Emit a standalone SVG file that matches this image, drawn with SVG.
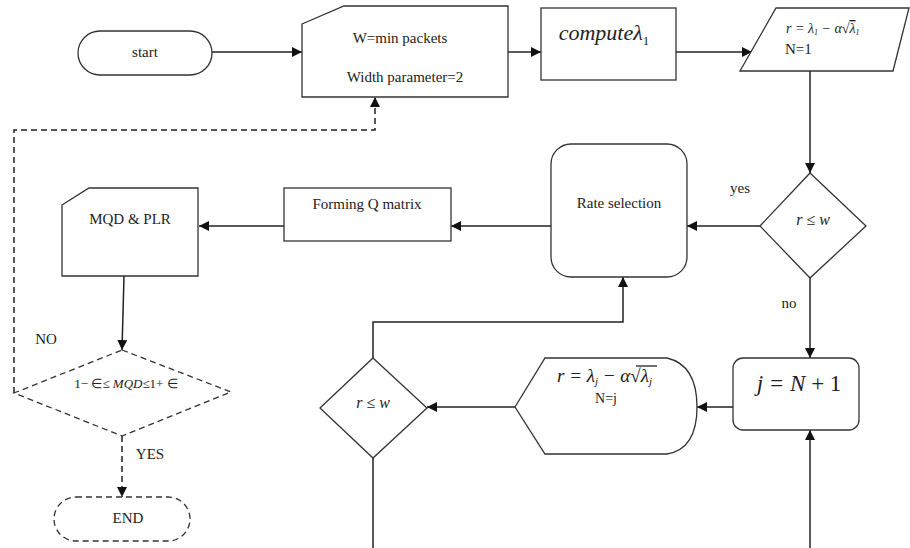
<svg xmlns="http://www.w3.org/2000/svg" width="910" height="548" viewBox="0 0 910 548">
<style>
.s{fill:#fff;stroke:#333;stroke-width:1.3}
.d{fill:#fff;stroke:#333;stroke-width:1.3;stroke-dasharray:6 4}
.c{fill:none;stroke:#222;stroke-width:1.5}
.cd{fill:none;stroke:#222;stroke-width:1.5;stroke-dasharray:6 4}
text{font-family:"Liberation Serif","Times New Roman",serif;fill:#222}
.t{font-size:15px}
.m{text-anchor:middle}
.i{font-style:italic}
</style>
<defs>
<marker id="a" viewBox="0 0 10 10" refX="10" refY="5" markerWidth="10" markerHeight="10" markerUnits="userSpaceOnUse" orient="auto">
<path d="M0,0 L10,5 L0,10 z" fill="#111"/>
</marker>
</defs>
<g id="connectors">
<line class="c" x1="212" y1="52" x2="302" y2="52" marker-end="url(#a)"/>
<line class="c" x1="508" y1="52" x2="541" y2="52" marker-end="url(#a)"/>
<line class="c" x1="676" y1="52" x2="752" y2="52" marker-end="url(#a)"/>
<line class="c" x1="810" y1="71" x2="810" y2="173" marker-end="url(#a)"/>
<line class="c" x1="760" y1="226" x2="687" y2="226" marker-end="url(#a)"/>
<line class="c" x1="551" y1="226" x2="451" y2="226" marker-end="url(#a)"/>
<line class="c" x1="284" y1="226" x2="199" y2="226" marker-end="url(#a)"/>
<line class="c" x1="124" y1="276" x2="122" y2="350" marker-end="url(#a)"/>
<polyline class="cd" points="14,393 14,130 375,130 375,97" marker-end="url(#a)"/>
<line class="cd" x1="122" y1="436" x2="122" y2="497" marker-end="url(#a)"/>
<line class="c" x1="810" y1="278" x2="810" y2="358" marker-end="url(#a)"/>
<line class="c" x1="810" y1="548" x2="810" y2="430" marker-end="url(#a)"/>
<line class="c" x1="733" y1="407" x2="697" y2="407" marker-end="url(#a)"/>
<line class="c" x1="515" y1="407" x2="427" y2="407" marker-end="url(#a)"/>
<polyline class="c" points="373,358 373,322 623,322 623,277" marker-end="url(#a)"/>
<line class="c" x1="373" y1="458" x2="373" y2="548"/>
<text x="740" y="193" class="m t">yes</text>
<text x="789" y="308" class="m t">no</text>
<text x="46" y="344" class="m t">NO</text>
<text x="150" y="459" class="m t">YES</text>
</g>
<g id="start">
<rect class="s" x="78" y="31" width="134" height="44" rx="22"/>
<text x="145" y="57" class="m t">start</text>
</g>
<g id="init">
<path class="s" d="M302,24 L344,6 L508,6 L508,97 L302,97 Z"/>
<text x="400" y="43" class="m t">W=min packets</text>
<text x="405" y="82" class="m t">Width parameter=2</text>
</g>
<g id="compute">
<rect class="s" x="541" y="8" width="135" height="72"/>
<text x="604" y="40" class="m i" style="font-size:22px">compute<tspan>λ</tspan><tspan style="font-size:13px;font-style:normal" dy="5">1</tspan></text>
</g>
<g id="formula1">
<path class="s" d="M776,8 L909,8 L893,71 L740,71 Z"/>
<text x="786" y="33" class="i" style="font-size:14px">r = λ<tspan style="font-size:8px" dy="2">1</tspan><tspan dy="-2"> − α√</tspan><tspan text-decoration="overline">λ</tspan><tspan style="font-size:8px" dy="2">1</tspan></text>
<text x="785" y="54" class="t">N=1</text>
</g>
<g id="check1">
<path class="s" d="M810,173 L866,226 L810,278 L760,226 Z"/>
<text x="813" y="225" class="m i" style="font-size:16px">r ≤ w</text>
</g>
<g id="rate">
<rect class="s" x="551" y="144" width="136" height="133" rx="20"/>
<text x="619" y="208" class="m t">Rate selection</text>
</g>
<g id="formingq">
<rect class="s" x="284" y="188" width="167" height="53"/>
<text x="367" y="209" class="m t">Forming Q matrix</text>
</g>
<g id="mqd">
<path class="s" d="M62,205 L89,188 L198,188 L198,276 L62,276 Z"/>
<text x="130" y="224" class="m t">MQD &amp; PLR</text>
</g>
<g id="check2">
<path class="d" d="M122,350 L231,392 L122,436 L14,393 Z"/>
<text x="126" y="388" class="m" style="font-size:13px">1− ∈≤ <tspan font-style="italic">MQD</tspan>≤1+ ∈</text>
</g>
<g id="end">
<rect class="d" x="54" y="497" width="136" height="44" rx="22"/>
<text x="128" y="523" class="m t">END</text>
</g>
<g id="jbox">
<rect class="s" x="733" y="358" width="126" height="72" rx="10"/>
<text x="799" y="391" class="m i" style="font-size:23px">j = N <tspan font-style="normal">+ 1</tspan></text>
</g>
<g id="formulaj">
<path class="s" d="M515,407 L545,358 L667,358 Q697,365 697,407 Q697,449 667,454 L545,454 Z"/>
<text x="557" y="382" class="i" style="font-size:19px">r = λ<tspan style="font-size:11px" dy="3">j</tspan><tspan dy="-3"> − α√</tspan><tspan>λ</tspan><tspan style="font-size:11px" dy="3">j</tspan></text>
<line x1="636" y1="366" x2="657" y2="366" stroke="#222" stroke-width="1.3"/>
<text x="606" y="403" class="m" style="font-size:14px">N=j</text>
</g>
<g id="check3">
<path class="s" d="M373,358 L427,408 L373,458 L320,408 Z"/>
<text x="373" y="408" class="m i" style="font-size:16px">r ≤ w</text>
</g>
</svg>
